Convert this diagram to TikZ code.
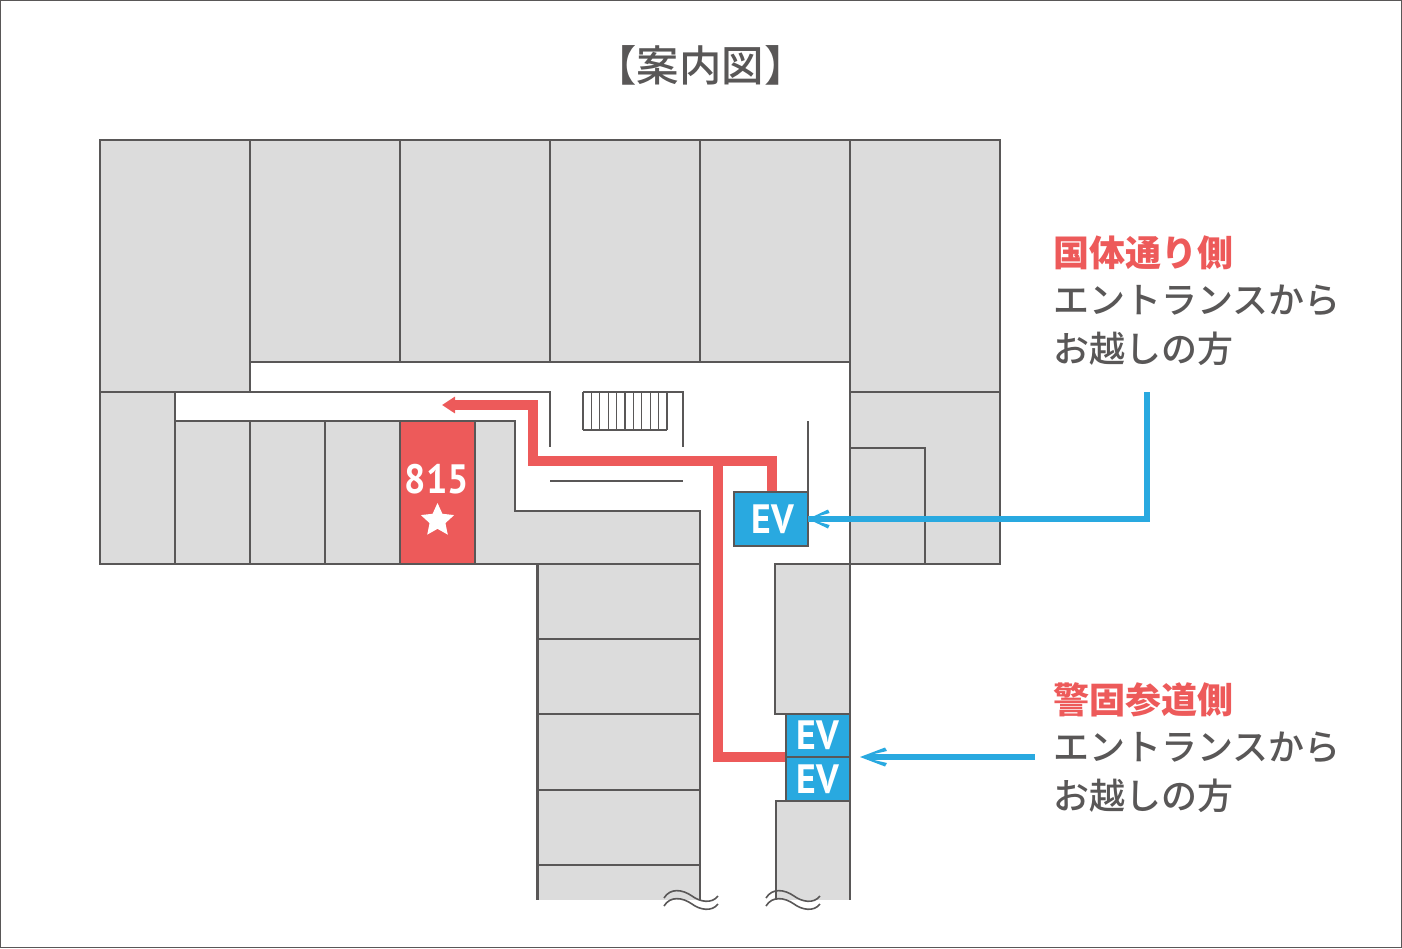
\documentclass[tikz,border=0pt]{standalone}
\usepackage{fontspec}
\newfontfamily\jpfont{Noto Sans CJK JP}
\newfontfamily\jpmedium{Noto Sans CJK JP Medium}
\newfontfamily\evfont[FakeStretch=0.92]{PT Sans}
\definecolor{wallcolor}{HTML}{595757}
\definecolor{roomcolor}{HTML}{DCDCDC}
\definecolor{routecolor}{HTML}{ED5A5A}
\definecolor{liftcolor}{HTML}{29A9E0}
\usetikzlibrary{shapes.geometric,arrows.meta}

\begin{document}
\begin{tikzpicture}[x=0.5pt,y=-0.5pt]

    \tikzset{%
        room/.style={draw=wallcolor, fill=roomcolor, line width=1.2pt},
        wall/.style={draw=wallcolor, line width=1.2pt},
        thinwall/.style={draw=wallcolor, line width=0.6pt},
        route/.style={draw=routecolor, line width=5pt},
        guide/.style={draw=liftcolor, line width=3pt},
        liftbox/.style={draw=wallcolor, fill=liftcolor, line width=1.2pt, text=white, font=\evfont\bfseries\fontsize{20.5}{20}\selectfont, inner sep=0pt, outer sep=0pt, rectangle},
        heading/.style={text=wallcolor, font=\jpmedium\fontsize{21.2}{21}\selectfont, inner sep=0pt},
        notehead/.style={text=routecolor, font=\jpfont\bfseries\fontsize{18}{18}\selectfont, inner sep=0pt, anchor=west},
        notebody/.style={text=wallcolor, font=\jpmedium\fontsize{18}{18}\selectfont, inner sep=0pt, anchor=west},
        pics/accessnote/.style args={#1/#2}{%
                code={%
                        \node [notehead] (head) at (0, 0) {#1};
                        \node [notebody] (body) at (0, 48) {#2};
                        \node [notebody] (tail) at (0, 96) {お越しの方};
                    }
            },
        pics/breakmark/.style={%
                code={%
                        \foreach \i in {0, 8} {%
                                \draw [thinwall, line width=0.8pt] (0, \i) .. controls (6, {\i-10}) and (18, {\i-9}) .. (28, {\i-2}) .. controls (36, {\i+4}) and (48, {\i+6}) .. (54, {\i-2});
                            }
                    }
            },
        pics/guidetip/.style={%
                code={%
                        \fill [liftcolor] (0, 0) -- (25, -9.5) -- (27, -6) -- (14, -3) -- (14, 3) -- (27, 6) -- (25, 9.5) -- cycle;
                    }
            }
    }

    \useasboundingbox (0, 0) rectangle (1402, 948);
    \draw [wallcolor, line width=0.6pt] (0.6, 0.6) rectangle (1401.4, 947.4);

    \node [heading] (title) at (700.5, 65) {【案内図】};

    % upper row
    \foreach \xa/\xb/\yb in {100/250/392, 250/400/362, 400/550/362, 550/700/362, 700/850/362, 850/1000/392} {%
            \path [room] (\xa, 140) rectangle (\xb, \yb);
        }

    % middle row
    \path [room] (100, 392) rectangle (175, 564);
    \foreach \xa/\xb in {175/250, 250/325, 325/400} {%
            \path [room] (\xa, 421) rectangle (\xb, 564);
        }
    \path [room] (475, 421) -- (515, 421) -- (515, 511) -- (700, 511) -- (700, 564) -- (475, 564) -- cycle;
    \path [room, fill=routecolor] (400, 421) rectangle (475, 564);
    \path [room] (850, 392) rectangle (1000, 564);
    \path [wall] (850, 564) -- (850, 448) -- (925, 448) -- (925, 564);

    % corridor walls
    \path [wall] (175, 392) -- (550, 392) -- (550, 447);
    \path [wall] (250, 362) -- (250, 392);
    \path [wall] (808, 421) -- (808, 492);
    \path [wall] (550, 481) -- (683, 481);

    % stairs
    \path [wall] (583, 392) -- (683, 392) -- (683, 447);
    \foreach \i in {0, ..., 10} {%
            \path [thinwall] ({583+\i*8.4}, 392) -- ({583+\i*8.4}, 430);
        }
    \path [thinwall] (583, 430) -- (667, 430);

    % south wing
    \fill [roomcolor] (537.5, 564) rectangle (700, 900);
    \fill [roomcolor] (776, 801) rectangle (850, 900);
    \foreach \ya/\yb in {564/639, 639/714, 714/790, 790/865} {%
            \path [room] (537.5, \ya) rectangle (700, \yb);
        }
    \path [wall] (537.5, 865) -- (537.5, 900);
    \path [wall] (700, 865) -- (700, 900);
    \path [room] (775, 564) rectangle (850, 714);
    \path [wall] (776, 900) -- (776, 801) -- (850, 801) -- (850, 900);

    \pic at (664, 898) {breakmark};
    \pic at (766, 898) {breakmark};

    % routes
    \path [route, -{Triangle[length=6.5pt, width=8pt]}] (772, 492) -- (772, 461) -- (533, 461) -- (533, 405) -- (442, 405);
    \path [route] (718, 461) -- (718, 757) -- (786, 757);

    % lifts
    \node [liftbox, minimum width=37pt, minimum height=27pt] (liftA) at (771, 519) {\raisebox{-0.5pt}{\hspace{2pt}EV}};
    \node [liftbox, minimum width=32pt, minimum height=21.5pt] (liftB) at (818, 735.5) {\raisebox{-0.5pt}{EV}};
    \node [liftbox, minimum width=32pt, minimum height=22pt] (liftC) at (818, 779) {\raisebox{-0.5pt}{EV}};

    % room number
    \node [text=white, font=\evfont\bfseries\fontsize{20.5}{20}\selectfont, inner sep=0pt] (number) at (437, 479) {815};
    \node [star, star points=5, star point ratio=2.1, fill=white, inner sep=0pt, minimum size=17.5pt] (mark) at (437.5, 520.5) {};

    % entrance notes
    \pic at (1053, 253) {accessnote={国体通り側/エントランスから}};
    \pic at (1053, 700) {accessnote={警固参道側/エントランスから}};

    \coordinate (startA) at (1147, 392);
    \coordinate (startB) at (1035, 757);
    \coordinate (endB) at (870, 757);
    \path [guide] (startA) |- (liftA.east);
    \path [guide] (startB) -- (endB);
    \pic [xscale=0.8] at (liftA.east) {guidetip};
    \pic at (860, 757) {guidetip};

\end{tikzpicture}
\end{document}
